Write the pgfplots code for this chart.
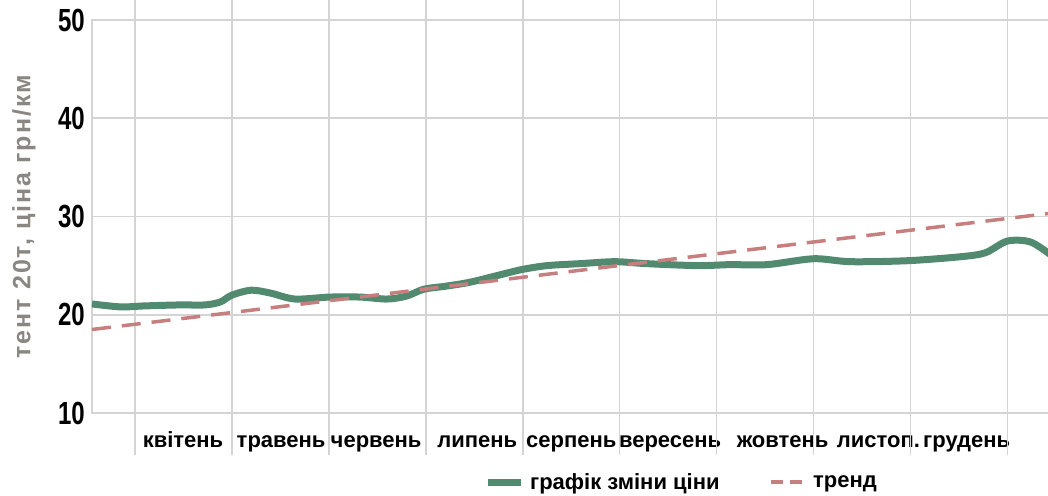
\documentclass[border=0pt]{standalone}
\usepackage{fontspec}
\setmainfont{Liberation Sans}
\newfontfamily\mytickfont{Liberation Sans}[FakeStretch=0.75]
\newfontfamily\ylabfont{Liberation Sans}[LetterSpace=8]
\usepackage{pgfplots}
\pgfplotsset{compat=1.18}
\definecolor{gridgray}{RGB}{212,212,212}
\definecolor{linegreen}{RGB}{82,138,112}
\definecolor{trendred}{RGB}{198,126,126}
\definecolor{labgray}{RGB}{138,134,130}
\begin{document}
\begin{tikzpicture}
\begin{axis}[
  scale only axis,
  width=960pt, height=393pt,
  xmin=-0.444, xmax=9.46,
  ymin=10, ymax=50,
  /pgf/number format/assume math mode=true,
  axis line style={draw=gridgray, line width=2pt},
  ytick={10,20,30,40,50},
  yticklabels={10,20,30,40,50},
  ymajorgrids=true,
  major grid style={draw=gridgray, line width=1.5pt},
  ytick style={draw=none},
  yticklabel style={font=\mytickfont\bfseries\fontsize{32}{32}\selectfont, inner sep=0pt, xshift=-7pt},
  xtick={0.495,1.507,2.487,3.53,4.50,5.52,6.68,7.67,8.58},
  xticklabels={квітень,травень,червень,липень,серпень,вересень,жовтень,листоп.,грудень},
  xtick style={draw=none},
  major tick length=0pt,
  xticklabel style={font=\bfseries\fontsize{22}{22}\selectfont, anchor=base, inner sep=0pt, yshift=-34pt},
  extra x ticks={0,1,2,3,4,5,6,7,8,9},
  extra x tick labels={},
  extra x tick style={xmajorgrids=true, major tick length=42pt, tick align=outside,
     xtick style={draw=gridgray, line width=1.5pt}},
  ylabel={тент 20т, ціна грн/км},
  every axis y label/.style={at={(axis description cs:-0.0708,0.5)}, rotate=90, anchor=center,
     font=\ylabfont\bfseries\fontsize{25}{25}\selectfont, text=labgray},
  legend columns=2,
  legend style={draw=none, fill=none, at={(axis description cs:0.614,-0.176)}, anchor=center,
     font=\bfseries\fontsize{22}{22}\selectfont, inner sep=0pt,
     /tikz/every even column/.append style={column sep=48pt}},
  clip=true,
]
\addplot[linegreen, line width=7pt, smooth, tension=0.5,
  legend image code/.code={\draw[linegreen, line width=7pt] (0pt,0pt) -- (33pt,0pt);}]
  table {
x y
-0.444 21.1
-0.15 20.8
0.10 20.9
0.46 21.0
0.72 21.0
0.88 21.3
1.00 22.0
1.20 22.5
1.40 22.2
1.65 21.6
2.01 21.8
2.32 21.8
2.60 21.6
2.80 21.9
2.98 22.6
3.20 22.9
3.45 23.3
3.74 24.0
3.99 24.6
4.25 25.0
4.59 25.2
4.95 25.4
5.28 25.2
5.80 25.0
6.14 25.1
6.52 25.1
7.00 25.7
7.38 25.4
7.97 25.5
8.51 25.9
8.77 26.3
9.00 27.5
9.24 27.4
9.46 26.0
};
\addlegendentry{\hspace{4pt}графік зміни ціни}
\addplot[trendred, line width=3.5pt, dash pattern=on 19pt off 11pt,
  legend image code/.code={\draw[trendred, line width=3.5pt] (0pt,0pt) -- (12pt,0pt);\draw[trendred, line width=3.5pt] (19pt,0pt) -- (31pt,0pt);}]
  table {
x y
-0.444 18.5
9.46 30.35
};
\addlegendentry{\hspace{7pt}тренд}
\end{axis}
\pgfresetboundingbox
\path[use as bounding box] ([xshift=-92pt,yshift=-82pt]current axis.south west) rectangle ([xshift=-4pt,yshift=20pt]current axis.north east);
\end{tikzpicture}
\end{document}
